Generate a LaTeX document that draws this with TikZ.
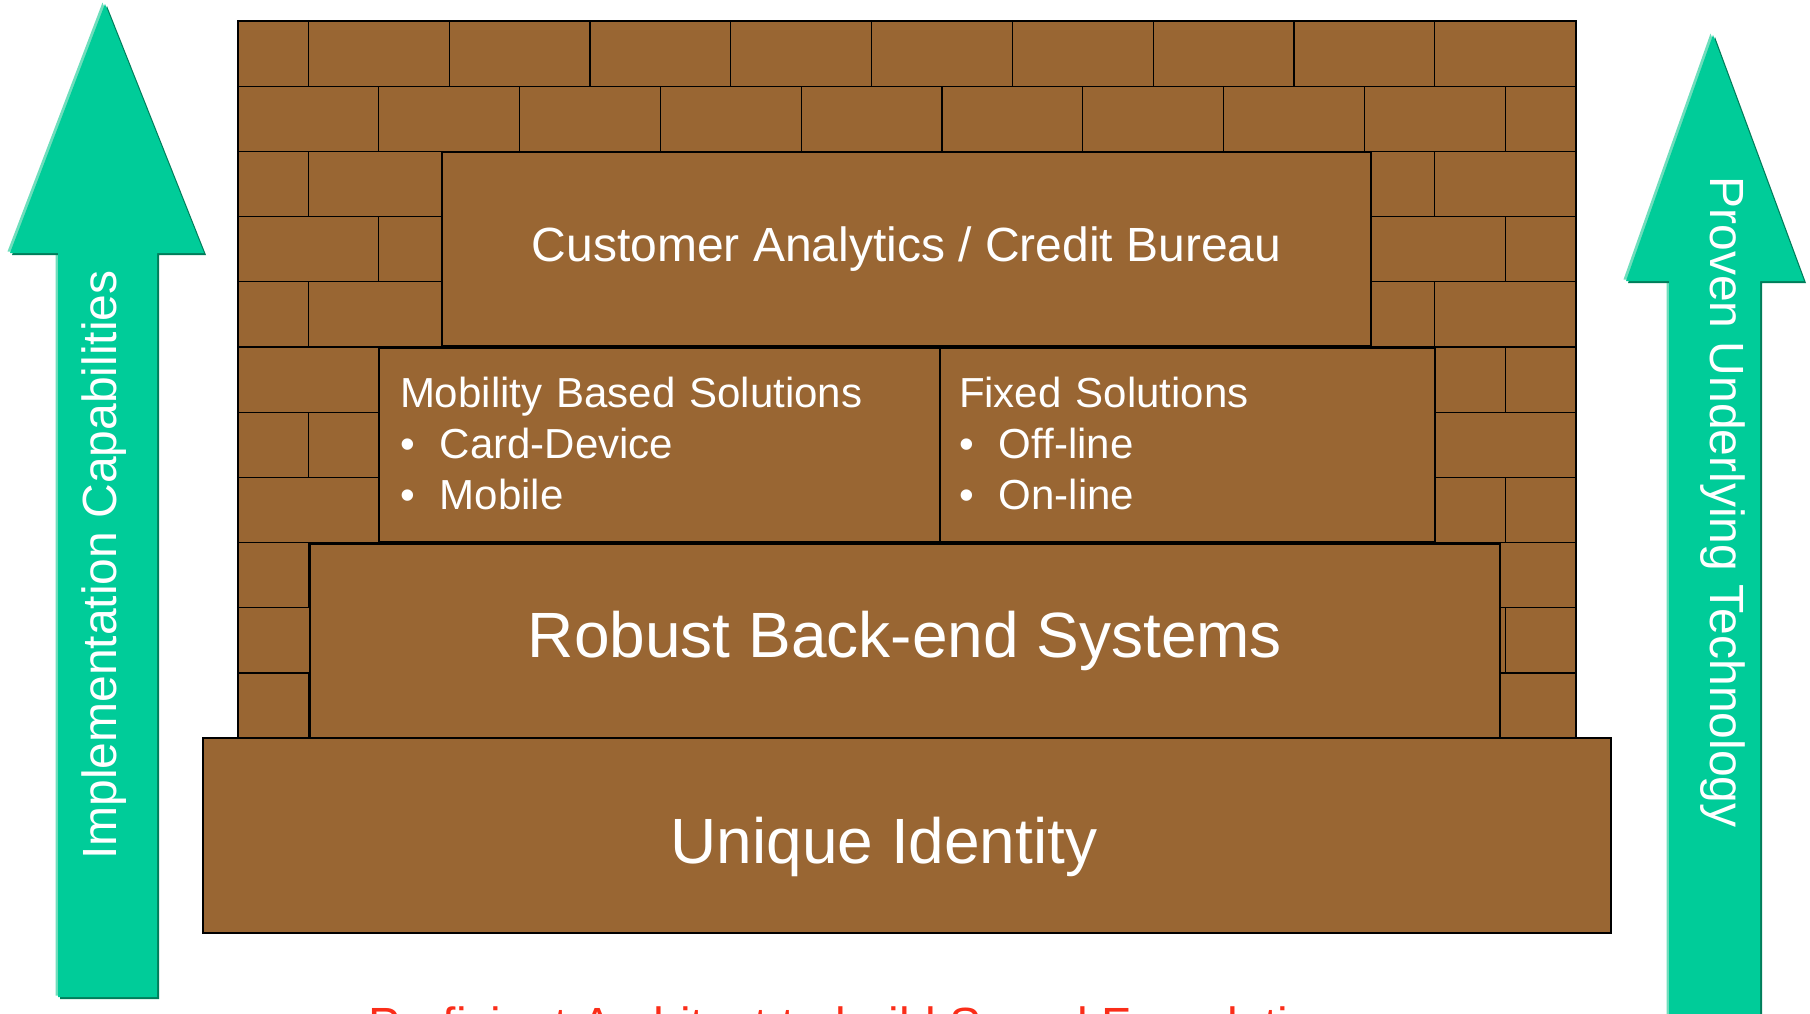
\documentclass[tikz,border=0pt]{standalone}
\usepackage{fontspec}
\setmainfont{Liberation Sans}

\definecolor{brick}{RGB}{153,102,51}
\definecolor{growth}{RGB}{0,204,153}
\definecolor{growthlit}{RGB}{110,222,188}
\definecolor{growthdk}{RGB}{0,125,90}
\definecolor{motto}{RGB}{250,45,25}

\tikzset{
  mortar/.style={black, line width=1.3pt},
  slab/.style={draw=black, fill=brick, line width=2.6pt, text=white, inner sep=0pt},
  arrowtext/.style={text=white, inner sep=0pt, font=\fontsize{48}{58}\selectfont},
}

\begin{document}
\begin{tikzpicture}[x=1pt, y=-1pt]
\useasboundingbox (0,0) rectangle (1810,1013);
\clip (0,0) rectangle (1810,1013);
\fill[growthlit, shift={(-2.5,-1.5)}] (58,997) -- (58,253) -- (10,253) -- (105,4) -- (204,253) -- (157,253) -- (157,997) -- cycle;
\fill[growthdk, shift={(2,2)}] (58,997) -- (58,253) -- (10,253) -- (105,4) -- (204,253) -- (157,253) -- (157,997) -- cycle;
\fill[growth] (58,997) -- (58,253) -- (10,253) -- (105,4) -- (204,253) -- (157,253) -- (157,997) -- cycle;
\fill[growthlit, shift={(-2.5,-1.5)}] (1669,1030) -- (1669,281) -- (1626,281) -- (1713,35) -- (1804,281) -- (1760,281) -- (1760,1030) -- cycle;
\fill[growthdk, shift={(2,2)}] (1669,1030) -- (1669,281) -- (1626,281) -- (1713,35) -- (1804,281) -- (1760,281) -- (1760,1030) -- cycle;
\fill[growth] (1669,1030) -- (1669,281) -- (1626,281) -- (1713,35) -- (1804,281) -- (1760,281) -- (1760,1030) -- cycle;
\node[arrowtext, rotate=90] (impl) at (104,565) {Implementation Capabilities};
\node[arrowtext, rotate=-90] (tech) at (1723,502) {Proven Underlying Technology};
\draw[mortar, fill=brick] (238,21) rectangle (1576,738);
\foreach \r in {1,...,10}
  \draw[mortar] (238,21+65.2*\r) -- (1576,21+65.2*\r);
\foreach \r in {0,2,...,10}
  \foreach \m in {1,3,...,17}
    \draw[mortar] (238+70.4*\m,21+65.2*\r) -- ++(0,65.2);
\foreach \r in {1,3,...,9}
  \foreach \m in {2,4,...,18}
    \draw[mortar] (238+70.4*\m,21+65.2*\r) -- ++(0,65.2);
\node[slab, line width=1.4pt, minimum width=1408pt, minimum height=195pt] (uid) at (907,835.5) {};
\node[text=white, inner sep=0pt, font=\fontsize{64}{77}\selectfont] (uidtext) at (884,847) {Unique Identity};
\node[slab, minimum width=929pt, minimum height=194pt, font=\fontsize{48}{58}\selectfont] (cab) at (906.5,249) {Customer Analytics / Credit Bureau};
\node[slab, text width=519pt, inner xsep=21pt, minimum height=194pt, align=left, font=\fontsize{42}{51}\selectfont] (mob) at (659.5,445) {\raisebox{3pt}{Mobility Based Solutions}\\ \raisebox{3pt}{\makebox[0.95em][l]{\textbullet}Card-Device}\\ \raisebox{3pt}{\makebox[0.95em][l]{\textbullet}Mobile}};
\node[slab, text width=457pt, inner xsep=19pt, minimum height=194pt, align=left, font=\fontsize{42}{51}\selectfont] (fix) at (1187.5,445) {\raisebox{3pt}{Fixed Solutions}\\ \raisebox{3pt}{\makebox[0.95em][l]{\textbullet}Off-line}\\ \raisebox{3pt}{\makebox[0.95em][l]{\textbullet}On-line}};
\node[slab, minimum width=1190pt, minimum height=194pt, font=\fontsize{64}{77}\selectfont] (rbs) at (905,641) {Robust Back-end Systems};
\node[text=motto, inner sep=0pt, anchor=base west, font=\fontsize{48}{58}\selectfont] (motto) at (368,1041) {Proficient Architect to build Sound Foundation};
\end{tikzpicture}
\end{document}
